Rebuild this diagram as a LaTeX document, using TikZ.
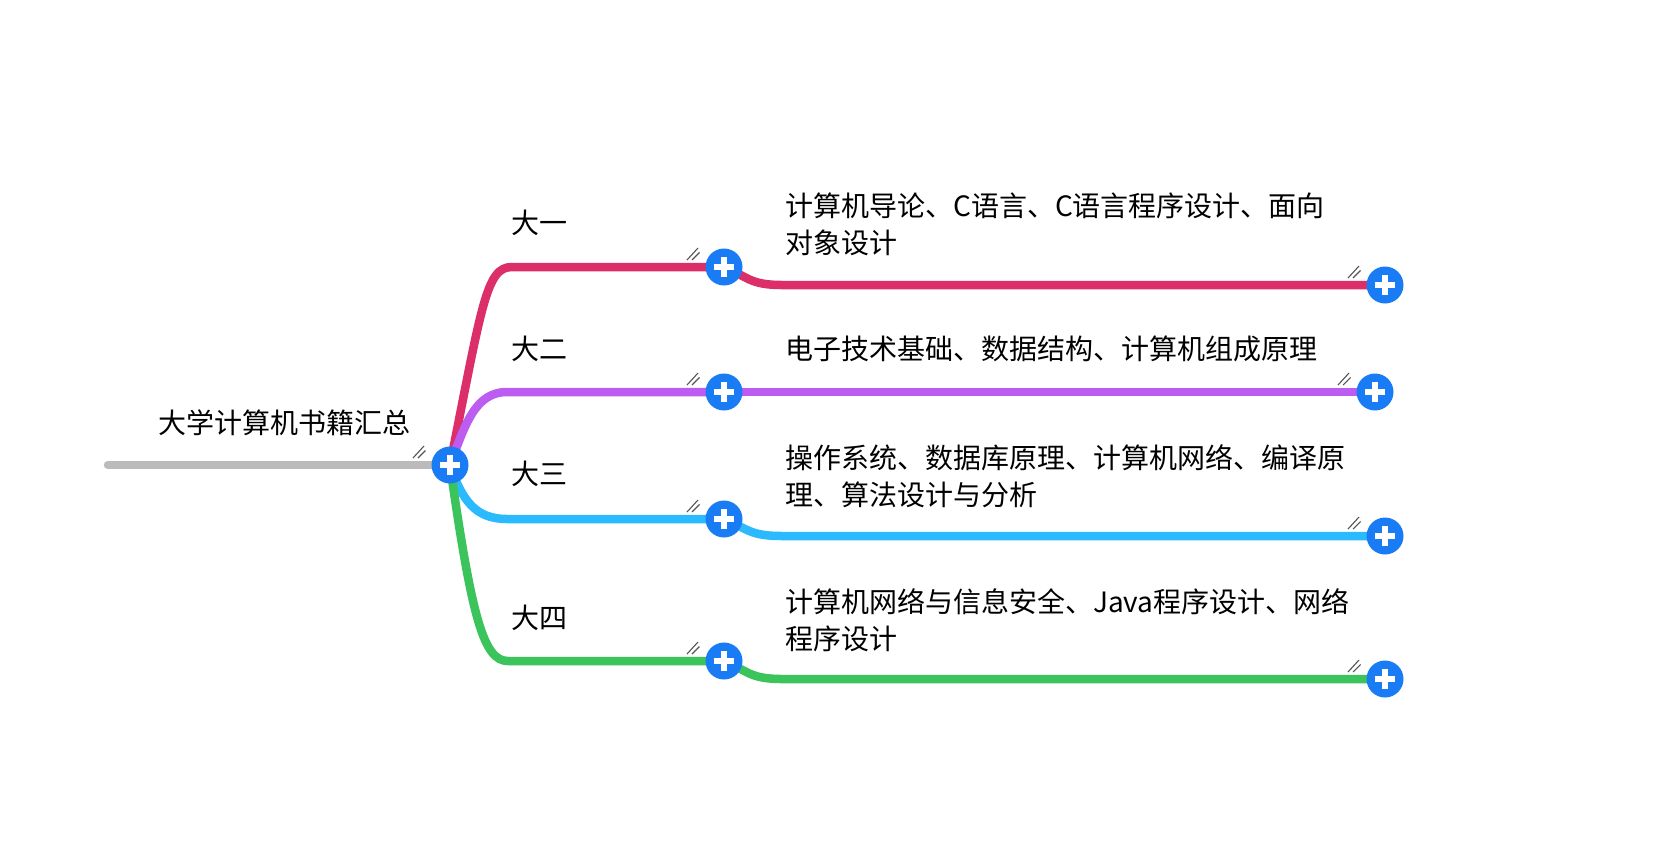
\documentclass[tikz,border=0pt]{standalone}
\usepackage{fontspec}
\setmainfont{Noto Sans CJK SC}
\usetikzlibrary{calc}
\definecolor{cred}{HTML}{DC2F6A}
\definecolor{cpurple}{HTML}{BD5CF0}
\definecolor{cblue}{HTML}{2ABAFD}
\definecolor{cgreen}{HTML}{3CC45C}
\definecolor{plusblue}{HTML}{1A7CF5}
\definecolor{cgray}{HTML}{BBBBBB}
\definecolor{slashc}{HTML}{555555}
\tikzset{
  branch/.style={line width=8.5pt, line cap=round},
  plusbtn/.style={circle, fill=plusblue, minimum size=37pt, inner sep=0pt,
    path picture={
      \draw[white, line width=5.5pt]
        ([xshift=-10pt]path picture bounding box.center) -- ([xshift=10pt]path picture bounding box.center);
      \draw[white, line width=5.5pt]
        ([yshift=-10pt]path picture bounding box.center) -- ([yshift=10pt]path picture bounding box.center);
    }},
  slashes/.pic={\draw[slashc, line width=1.1pt] (-37,-7) -- (-26,-19) (-32,-7) -- (-24.5,-14.5);},
  txt/.style={anchor=west, inner sep=0pt, align=left, font=\fontsize{28}{37.5}\selectfont, text=black}
}
\begin{document}
\begin{tikzpicture}[x=1pt,y=-1pt]
\useasboundingbox[fill=white] (0,0) rectangle (1680,841);

% coordinates
\coordinate (L) at (108,465);
\coordinate (R) at (450,465);
\coordinate (P1) at (724,267);
\coordinate (P2) at (724,392);
\coordinate (P3) at (724,519);
\coordinate (P4) at (724,661);
\coordinate (B1) at (512,267);
\coordinate (B2) at (507,392);
\coordinate (B3) at (507,519);
\coordinate (B4) at (508,661);
\coordinate (C1) at (782,285);
\coordinate (C3) at (782,536);
\coordinate (C4) at (782,679);
\coordinate (Q1) at (1385,285);
\coordinate (Q2) at (1375,392);
\coordinate (Q3) at (1385,536);
\coordinate (Q4) at (1385,679);

% root line
\draw[branch, cgray] (L) -- (R);

% first level
\draw[branch, cred] (R) .. controls +(32,-160) and +(-26,0) .. (B1) -- (P1);
\draw[branch, cpurple] (R) .. controls +(15,-40) and +(-32,0) .. (B2) -- (P2);
\draw[branch, cblue] (R) .. controls +(12,35) and +(-32,0) .. (B3) -- (P3);
\draw[branch, cgreen] (R) .. controls +(22,155) and +(-24,0) .. (B4) -- (P4);

% second level
\draw[branch, cred] (P1) .. controls +(24,10) and +(-32,0) .. (C1) -- (Q1);
\draw[branch, cpurple] (P2) -- (Q2);
\draw[branch, cblue] (P3) .. controls +(24,10) and +(-32,0) .. (C3) -- (Q3);
\draw[branch, cgreen] (P4) .. controls +(24,10) and +(-32,0) .. (C4) -- (Q4);

% slash marks
\foreach \p in {R,P1,P2,P3,P4,Q1,Q2,Q3,Q4} { \pic at (\p) {slashes}; }

% plus buttons
\node[plusbtn] (nR) at (R) {};
\node[plusbtn] (n1) at (P1) {};
\node[plusbtn] (n2) at (P2) {};
\node[plusbtn] (n3) at (P3) {};
\node[plusbtn] (n4) at (P4) {};
\node[plusbtn] (m1) at (Q1) {};
\node[plusbtn] (m2) at (Q2) {};
\node[plusbtn] (m3) at (Q3) {};
\node[plusbtn] (m4) at (Q4) {};

% texts
\node[txt] (troot) at (158,423) {大学计算机书籍汇总};
\node[txt] (t1) at (511,223) {大一};
\node[txt] (t2) at (511,349) {大二};
\node[txt] (t3) at (511,474) {大三};
\node[txt] (t4) at (511,618) {大四};
\node[txt] (s1) at (785,224.5) {计算机导论、C语言、C语言程序设计、面向\\对象设计};
\node[txt] (s2) at (785,349) {电子技术基础、数据结构、计算机组成原理};
\node[txt] (s3) at (785,476) {操作系统、数据库原理、计算机网络、编译原\\理、算法设计与分析};
\node[txt] (s4) at (785,620) {计算机网络与信息安全、Java程序设计、网络\\程序设计};
\end{tikzpicture}
\end{document}
